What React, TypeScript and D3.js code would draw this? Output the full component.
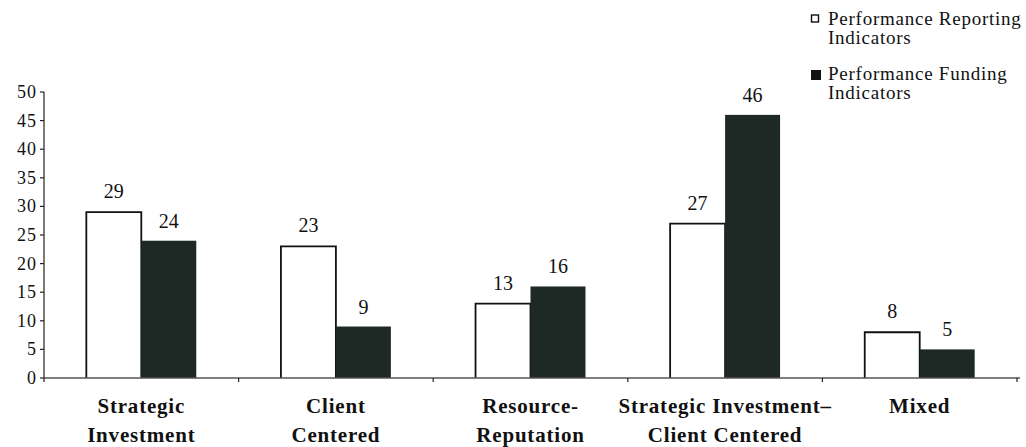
import React from "react";
import * as d3 from "d3";

const categories = [
  ["Strategic", "Investment"],
  ["Client", "Centered"],
  ["Resource-", "Reputation"],
  ["Strategic Investment–", "Client Centered"],
  ["Mixed", ""],
];
const reportingValues = [29, 23, 13, 27, 8];
const fundingValues = [24, 9, 16, 46, 5];
const yTicks = [0, 5, 10, 15, 20, 25, 30, 35, 40, 45, 50];
const seriesNames = ["Performance Reporting|Indicators", "Performance Funding|Indicators"];

const W = 1026;
const H = 447;
const FONT = "'Liberation Serif', 'DejaVu Serif', serif";
const DARK = "#1e2824";

export default function App() {
  const x0 = 44, x1 = 1017;
  const yScale = d3.scaleLinear().domain([0, 50]).range([378, 92]);
  const band = d3.scaleBand<number>().domain(categories.map((_, i) => i)).range([x0, x1]).padding(0);
  const inner = d3.scaleBand<number>().domain([0, 1]).range([0, band.bandwidth()]).paddingInner(0).paddingOuter(0.77);
  const bw = inner.bandwidth();

  return (
    <svg width={W} height={H} style={{ position: "absolute", left: 0, top: 0, background: "#fff" }}>
      {/* bars */}
      {categories.map((_, i) => {
        const bx = band(i)!;
        const r = reportingValues[i];
        const f = fundingValues[i];
        const rx = bx + inner(0)!;
        const fx = bx + inner(1)!;
        const cx = bx + band.bandwidth() / 2;
        return (
          <g key={i}>
            <path
              d={`M${rx},${yScale(0)} V${yScale(r)} H${rx + bw} V${yScale(0)}`}
              fill="#fff"
              stroke="#111"
              strokeWidth={1.8}
            />
            <rect x={fx} y={yScale(f)} width={bw} height={yScale(0) - yScale(f)} fill={DARK} />
            <text x={rx + bw / 2} y={yScale(r) - 14} textAnchor="middle" fontFamily={FONT} fontSize={20} fill="#111">{r}</text>
            <text x={fx + bw / 2} y={yScale(f) - 13} textAnchor="middle" fontFamily={FONT} fontSize={20} fill="#111">{f}</text>
            <text x={cx} y={413} textAnchor="middle" fontFamily={FONT} fontSize={21} fontWeight="bold" letterSpacing={0.8} fill="#111">{categories[i][0]}</text>
            <text x={cx} y={442} textAnchor="middle" fontFamily={FONT} fontSize={21} fontWeight="bold" letterSpacing={0.8} fill="#111">{categories[i][1]}</text>
          </g>
        );
      })}
      {/* x axis */}
      <line x1={x0} x2={x1 + 3} y1={yScale(0)} y2={yScale(0)} stroke="#555" strokeWidth={1.5} />
      {d3.range(categories.length + 1).map((i) => {
        const tx = i < categories.length ? band(i)! : x1;
        return <line key={i} x1={tx} x2={tx} y1={yScale(0)} y2={yScale(0) + 4} stroke="#222" strokeWidth={1.2} />;
      })}
      {/* y axis */}
      <line x1={x0} x2={x0} y1={yScale(50)} y2={yScale(0)} stroke="#222" strokeWidth={1.2} />
      {yTicks.map((t) => (
        <g key={t}>
          <line x1={x0 - 4} x2={x0} y1={yScale(t)} y2={yScale(t)} stroke="#222" strokeWidth={1.2} />
          <text x={37} y={yScale(t) + 6} textAnchor="end" fontFamily={FONT} fontSize={18} letterSpacing={1} fill="#111">{t}</text>
        </g>
      ))}
      {/* legend */}
      {seriesNames.map((name, i) => {
        const ly = 25 + i * 55;
        const [l1, l2] = name.split("|");
        return (
          <g key={i}>
            {i === 0 ? (
              <rect x={811.5} y={ly - 10} width={7} height={7} fill="#fff" stroke="#111" strokeWidth={1.4} />
            ) : (
              <rect x={811} y={ly - 10} width={10} height={10} fill="#111" />
            )}
            <text x={828} y={ly} fontFamily={FONT} fontSize={19} letterSpacing={0.75} fill="#111">{l1}</text>
            <text x={828} y={ly + 19} fontFamily={FONT} fontSize={19} letterSpacing={0.75} fill="#111">{l2}</text>
          </g>
        );
      })}
    </svg>
  );
}
